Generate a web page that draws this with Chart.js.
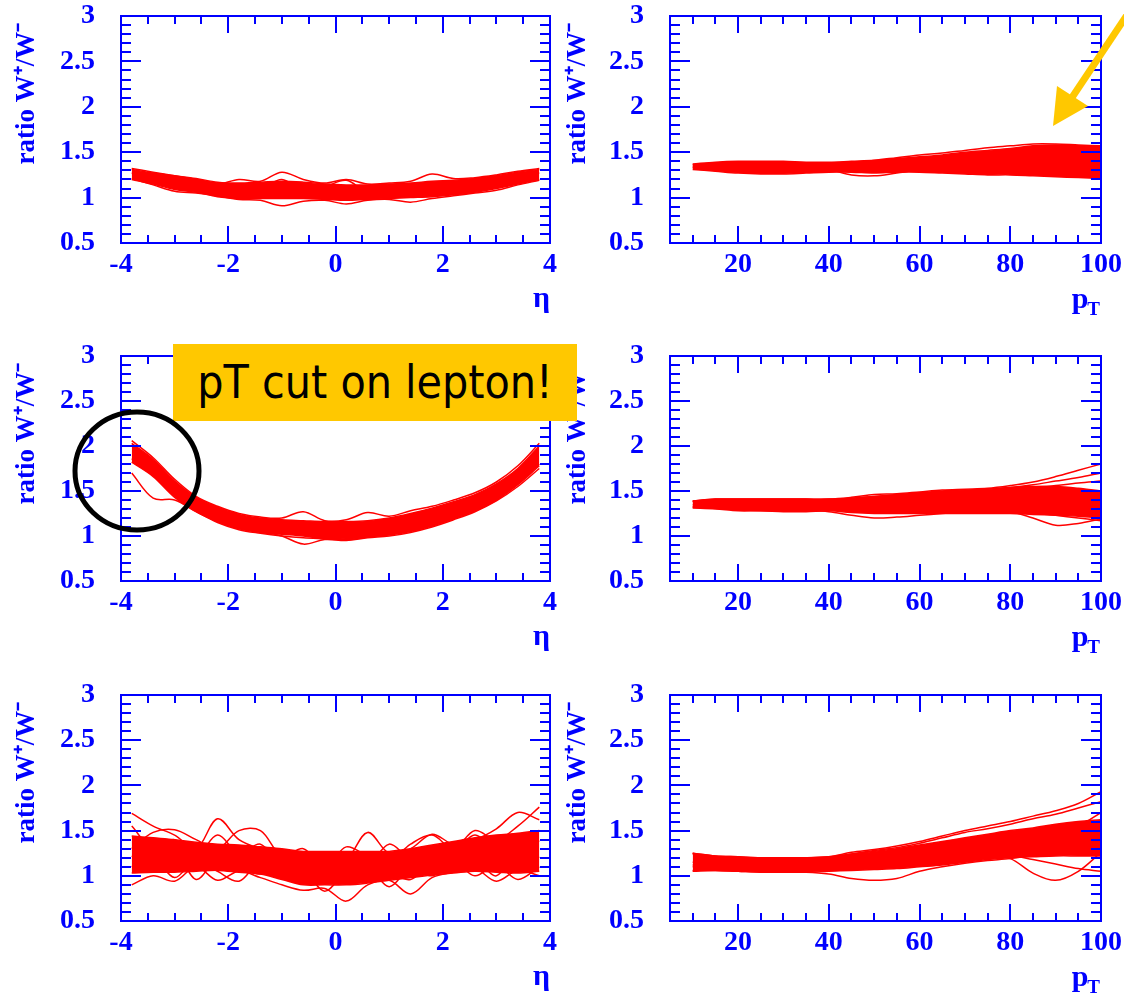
<!DOCTYPE html>
<html><head><meta charset="utf-8">
<script src="https://cdn.jsdelivr.net/npm/chart.js@4.4.1/dist/chart.umd.min.js"></script>
<style>
html,body{margin:0;padding:0;background:#fff;}
body{width:1124px;height:996px;position:relative;overflow:hidden;}
canvas{position:absolute;display:block;}
#note{position:absolute;left:173px;top:344px;width:404px;height:77px;background:#FFC800;
  font-family:"DejaVu Sans Condensed","DejaVu Sans",sans-serif;font-size:46px;color:#000;
  line-height:77px;text-align:center;white-space:nowrap;}
#deco{position:absolute;left:0;top:0;}
</style></head><body>
<canvas id="c1"></canvas><canvas id="c2"></canvas>
<canvas id="c3"></canvas><canvas id="c4"></canvas>
<canvas id="c5"></canvas><canvas id="c6"></canvas>
<div id="note">pT cut on lepton!</div>
<svg id="deco" width="1124" height="996">
  <ellipse cx="137" cy="471" rx="62" ry="59" fill="none" stroke="#000" stroke-width="5"/>
  <line x1="1137" y1="0" x2="1071" y2="99" stroke="#FFC800" stroke-width="7"/>
  <polygon points="1053,126 1088,106 1057,86" fill="#FFC800"/>
</svg>
<script>
// ---------------- data ----------------
const etaX = [-3.8,-3.4,-3.0,-2.6,-2.2,-1.8,-1.4,-1.0,-0.6,-0.2,0.2,0.6,1.0,1.4,1.8,2.2,2.6,3.0,3.4,3.8];
const ptX  = [10,15,20,25,30,35,40,45,50,55,60,65,70,75,80,85,90,95,100];
const yTickLabels   = [0.5,1,1.5,2,2.5,3];
const etaTickLabels = [-4,-2,0,2,4];
const ptTickLabels  = [20,40,60,80,100];

// top-left: eta
const etaTopLow  = [1.20,1.15,1.09,1.06,1.01,0.99,0.99,0.99,0.99,0.98,0.97,0.98,0.99,1.00,1.01,1.03,1.06,1.10,1.15,1.20];
const etaTopHigh = [1.31,1.27,1.24,1.21,1.17,1.16,1.17,1.18,1.17,1.15,1.14,1.14,1.15,1.16,1.18,1.19,1.21,1.24,1.28,1.31];
const etaTopCurves = [
  [1.32,1.28,1.24,1.20,1.15,1.20,1.18,1.28,1.20,1.16,1.20,1.15,1.16,1.18,1.26,1.21,1.22,1.25,1.29,1.32],
  [1.21,1.14,1.07,1.05,1.02,0.98,0.97,0.91,0.96,0.97,0.93,0.97,0.98,0.95,0.99,1.02,1.05,1.08,1.14,1.19],
  [1.27,1.22,1.18,1.14,1.10,1.12,1.10,1.20,1.08,1.12,1.19,1.06,1.10,1.12,1.13,1.14,1.16,1.18,1.24,1.27]
];
// middle-left: eta with lepton pT cut
const etaMidLow  = [1.82,1.66,1.43,1.27,1.16,1.08,1.04,1.02,1.00,0.97,0.97,0.99,1.01,1.05,1.11,1.19,1.28,1.40,1.57,1.78];
const etaMidHigh = [2.03,1.85,1.61,1.43,1.32,1.24,1.20,1.18,1.17,1.16,1.16,1.17,1.20,1.25,1.31,1.38,1.46,1.58,1.75,2.00];
const etaMidCurves = [
  [1.70,1.42,1.40,1.27,1.15,1.07,1.03,1.00,0.98,0.97,0.96,0.99,1.02,1.06,1.12,1.20,1.30,1.42,1.60,1.80],
  [2.06,1.87,1.63,1.44,1.33,1.25,1.21,1.20,1.27,1.17,1.18,1.26,1.22,1.28,1.33,1.40,1.48,1.60,1.78,2.03],
  [1.86,1.68,1.45,1.28,1.17,1.09,1.05,1.00,0.91,0.96,0.95,0.98,1.00,1.04,1.10,1.18,1.27,1.39,1.55,1.75]
];
// bottom-left: eta
const etaBotLow  = [1.03,1.04,1.04,1.05,1.06,1.04,1.02,0.96,0.90,0.90,0.90,0.92,0.95,0.98,1.01,1.03,1.05,1.04,1.03,1.05];
const etaBotHigh = [1.44,1.42,1.40,1.37,1.35,1.34,1.32,1.30,1.27,1.27,1.27,1.27,1.27,1.30,1.34,1.38,1.42,1.45,1.47,1.50];
const etaBotCurves = [
  [1.69,1.55,1.45,1.30,1.63,1.40,1.30,1.25,1.22,1.15,1.18,1.48,1.25,1.30,1.46,1.35,1.40,1.52,1.70,1.62],
  [0.90,1.00,0.94,1.10,0.95,1.05,0.98,0.90,0.84,0.86,0.72,0.90,0.95,0.80,0.98,1.04,1.08,0.94,1.06,1.00],
  [1.30,1.48,1.51,1.40,1.30,1.50,1.50,1.22,1.30,1.10,1.32,1.22,1.16,1.35,1.45,1.30,1.50,1.40,1.55,1.76],
  [1.10,1.20,0.98,1.18,1.05,0.94,1.15,0.98,1.05,0.83,1.05,1.10,0.88,1.08,1.00,1.15,1.00,1.12,0.96,1.10],
  [1.55,1.30,1.40,1.22,1.45,1.25,1.35,1.12,1.25,1.18,1.20,1.12,1.35,1.20,1.32,1.28,1.45,1.30,1.45,1.38],
  [1.22,1.08,1.28,0.96,1.18,1.10,1.02,1.15,0.96,1.05,0.98,1.25,1.05,0.96,1.15,1.10,1.18,1.00,1.30,1.20]
];
// top-right: pT
const ptTopLow  = [1.31,1.29,1.27,1.26,1.26,1.27,1.28,1.28,1.27,1.28,1.28,1.27,1.26,1.25,1.25,1.24,1.23,1.22,1.21];
const ptTopHigh = [1.37,1.39,1.40,1.40,1.40,1.39,1.39,1.40,1.41,1.43,1.45,1.47,1.50,1.52,1.54,1.57,1.58,1.57,1.56];
const ptTopCurves = [
  [1.33,1.33,1.32,1.32,1.32,1.32,1.31,1.25,1.24,1.27,1.30,1.31,1.33,1.30,1.28,1.27,1.26,1.28,1.30],
  [1.36,1.38,1.39,1.39,1.39,1.38,1.38,1.39,1.41,1.44,1.47,1.49,1.52,1.55,1.57,1.59,1.59,1.58,1.57],
  [1.34,1.35,1.36,1.36,1.35,1.35,1.34,1.35,1.36,1.37,1.38,1.40,1.41,1.40,1.41,1.43,1.44,1.40,1.38]
];
// middle-right: pT
const ptMidLow  = [1.31,1.30,1.28,1.28,1.27,1.27,1.28,1.26,1.25,1.25,1.25,1.25,1.25,1.25,1.25,1.24,1.23,1.22,1.20];
const ptMidHigh = [1.39,1.41,1.41,1.41,1.41,1.41,1.41,1.42,1.44,1.46,1.48,1.50,1.51,1.52,1.54,1.55,1.55,1.53,1.50];
const ptMidCurves = [
  [1.39,1.41,1.41,1.41,1.41,1.41,1.41,1.43,1.46,1.47,1.49,1.51,1.52,1.53,1.56,1.60,1.66,1.73,1.80],
  [1.38,1.40,1.40,1.40,1.40,1.40,1.40,1.42,1.44,1.45,1.47,1.49,1.50,1.52,1.54,1.57,1.61,1.65,1.70],
  [1.32,1.31,1.29,1.28,1.28,1.28,1.27,1.23,1.20,1.21,1.23,1.25,1.27,1.28,1.27,1.20,1.12,1.14,1.19],
  [1.35,1.36,1.36,1.36,1.35,1.35,1.35,1.36,1.38,1.40,1.42,1.44,1.46,1.48,1.50,1.53,1.56,1.59,1.61],
  [1.33,1.32,1.31,1.30,1.30,1.30,1.30,1.29,1.28,1.28,1.29,1.30,1.30,1.29,1.28,1.26,1.23,1.20,1.17]
];
// bottom-right: pT
const ptBotLow  = [1.05,1.06,1.05,1.04,1.04,1.04,1.05,1.06,1.07,1.08,1.10,1.12,1.15,1.18,1.20,1.21,1.22,1.22,1.22];
const ptBotHigh = [1.25,1.22,1.21,1.20,1.20,1.20,1.21,1.24,1.27,1.30,1.34,1.38,1.42,1.46,1.50,1.53,1.57,1.60,1.62];
const ptBotCurves = [
  [1.25,1.22,1.21,1.20,1.20,1.20,1.21,1.26,1.29,1.33,1.38,1.44,1.50,1.55,1.60,1.66,1.72,1.80,1.93],
  [1.24,1.21,1.20,1.19,1.19,1.19,1.20,1.24,1.28,1.31,1.36,1.42,1.48,1.52,1.57,1.63,1.68,1.75,1.82],
  [1.06,1.06,1.05,1.04,1.04,1.04,1.02,0.97,0.95,0.97,1.05,1.10,1.14,1.17,1.19,1.23,1.28,1.36,1.45],
  [1.10,1.10,1.09,1.08,1.08,1.08,1.09,1.11,1.13,1.15,1.18,1.21,1.22,1.22,1.19,1.03,0.95,1.05,1.26],
  [1.12,1.12,1.11,1.10,1.10,1.10,1.11,1.13,1.15,1.17,1.20,1.23,1.26,1.26,1.23,1.18,1.13,1.08,1.05],
  [1.15,1.15,1.14,1.13,1.13,1.13,1.14,1.17,1.20,1.24,1.28,1.32,1.36,1.39,1.42,1.45,1.48,1.55,1.70]
];

// axis tick steps
const etaMinorStep = 0.5, etaMajorStep = 2;
const ptMinorStep = 5, ptMajorStep = 20;
const yMinorStep = 0.1, yMajorStep = 0.5;

// ---------------- drawing ----------------
const BLUE = '#0000ff';
const RED = '#ff0000';
const SERIF = '"Liberation Serif","Times New Roman",serif';
Chart.defaults.font.family = SERIF;

const frameTicks = {
  id: 'frameTicks',
  afterDatasetsDraw(chart, args, o) {
    const {ctx, chartArea: a, scales: {x, y}} = chart;
    ctx.save();
    ctx.strokeStyle = BLUE; ctx.lineWidth = 2; ctx.lineCap = 'butt';
    ctx.beginPath();
    const nx = Math.round((x.max - x.min) / o.xMinor);
    for (let i = 0; i <= nx; i++) {
      const v = x.min + i * o.xMinor;
      const r = v / o.xMajor;
      const len = Math.abs(r - Math.round(r)) < 1e-6 ? 17 : 8;
      const px = Math.round(x.getPixelForValue(v));
      ctx.moveTo(px, a.bottom); ctx.lineTo(px, a.bottom - len);
      ctx.moveTo(px, a.top); ctx.lineTo(px, a.top + len);
    }
    const ny = Math.round((y.max - y.min) / o.yMinor);
    for (let i = 0; i <= ny; i++) {
      const v = y.min + i * o.yMinor;
      const r = v / o.yMajor;
      const len = Math.abs(r - Math.round(r)) < 1e-6 ? 20 : 10;
      const py = Math.round(y.getPixelForValue(v));
      ctx.moveTo(a.left, py); ctx.lineTo(a.left + len, py);
      ctx.moveTo(a.right, py); ctx.lineTo(a.right - len, py);
    }
    ctx.stroke();
    ctx.strokeRect(a.left, a.top, a.right - a.left, a.bottom - a.top);
    ctx.restore();
  }
};

const ptTitle = {
  id: 'ptTitle',
  afterDraw(chart, args, o) {
    if (!o.show) return;
    const {ctx, chartArea: a} = chart;
    ctx.save();
    ctx.fillStyle = BLUE;
    ctx.textBaseline = 'alphabetic';
    ctx.textAlign = 'left';
    ctx.font = 'bold 19px ' + SERIF;
    const wT = ctx.measureText('T').width;
    ctx.font = 'bold 30px ' + SERIF;
    const wp = ctx.measureText('p').width;
    const xr = a.right - 1;
    ctx.fillText('p', xr - wT - wp + 1, a.bottom + 65);
    ctx.font = 'bold 19px ' + SERIF;
    ctx.fillText('T', xr - wT, a.bottom + 72);
    ctx.restore();
  }
};

function pts(xs, ys) { return xs.map((x, i) => ({x: x, y: ys[i]})); }

function panel(id, box, frame, kind, low, high, curves, yTitlePad) {
  const isEta = kind === 'eta';
  const xs = isEta ? etaX : ptX;
  const cv = document.getElementById(id);
  cv.width = box.w; cv.height = box.h;
  cv.style.left = box.x + 'px'; cv.style.top = box.y + 'px';
  cv.style.width = box.w + 'px'; cv.style.height = box.h + 'px';
  const padTop = frame.top - box.y;
  const padRight = box.x + box.w - frame.right;
  const yW = frame.left - box.x;
  const xH = box.y + box.h - frame.bottom;
  const etaCenter = frame.bottom + 56;
  const etaPadB = Math.max(0, (box.y + box.h) - etaCenter - 18);
  const line = (ys, fill) => ({
    data: pts(xs, ys), borderColor: RED, backgroundColor: RED,
    borderWidth: 1.5, pointRadius: 0, tension: 0.35, fill: fill
  });
  const datasets = [line(low, false), line(high, '-1')].concat(curves.map(c => line(c, false)));
  new Chart(cv, {
    type: 'line',
    data: {datasets},
    options: {
      responsive: false, animation: false, events: [],
      layout: {padding: {left: 0, top: padTop, right: padRight, bottom: 0}},
      plugins: {
        legend: {display: false}, tooltip: {enabled: false},
        frameTicks: {
          xMinor: isEta ? etaMinorStep : ptMinorStep,
          xMajor: isEta ? etaMajorStep : ptMajorStep,
          yMinor: yMinorStep, yMajor: yMajorStep
        },
        ptTitle: {show: !isEta}
      },
      scales: {
        x: {
          type: 'linear', min: isEta ? -4 : 5, max: isEta ? 4 : 100,
          grid: {display: false, drawTicks: false}, border: {display: false},
          afterBuildTicks: s => { s.ticks = (isEta ? etaTickLabels : ptTickLabels).map(v => ({value: v})); },
          afterFit: s => { s.height = xH; s.paddingLeft = 0; s.paddingRight = 0; },
          ticks: {color: BLUE, font: {size: 28, weight: 'bold'}, padding: 5, maxRotation: 0, autoSkip: false,
                  callback: v => String(v)},
          title: {display: isEta, text: 'η', align: 'end', color: BLUE,
                  font: {size: 30, weight: 'bold'}, padding: {top: 0, bottom: etaPadB}}
        },
        y: {
          type: 'linear', min: 0.5, max: 3,
          grid: {display: false, drawTicks: false}, border: {display: false},
          afterBuildTicks: s => { s.ticks = yTickLabels.map(v => ({value: v})); },
          afterFit: s => { s.width = yW; s.paddingTop = 0; s.paddingBottom = 0; },
          ticks: {color: BLUE, font: {size: 28, weight: 'bold'}, padding: 26, autoSkip: false,
                  callback: v => String(v)},
          title: {display: true, text: 'ratio W⁺/W⁻ ', align: 'end', color: BLUE,
                  font: {size: 27, weight: 'bold'}, padding: {top: yTitlePad, bottom: 0}}
        }
      }
    },
    plugins: [frameTicks, ptTitle]
  });
}

const rows = [
  {y: 0, h: 330, top: 16, bottom: 243},
  {y: 330, h: 340, top: 356, bottom: 581},
  {y: 670, h: 326, top: 695, bottom: 921}
];
const colL = {x: 0, w: 562, left: 121, right: 550};
const colR = {x: 562, w: 562, left: 670, right: 1101};
function B(c, r) { return {x: c.x, y: r.y, w: c.w, h: r.h}; }
function F(c, r) { return {left: c.left, right: c.right, top: r.top, bottom: r.bottom}; }

panel('c1', B(colL, rows[0]), F(colL, rows[0]), 'eta', etaTopLow, etaTopHigh, etaTopCurves, 11);
panel('c2', B(colR, rows[0]), F(colR, rows[0]), 'pt', ptTopLow, ptTopHigh, ptTopCurves, 0);
panel('c3', B(colL, rows[1]), F(colL, rows[1]), 'eta', etaMidLow, etaMidHigh, etaMidCurves, 11);
panel('c4', B(colR, rows[1]), F(colR, rows[1]), 'pt', ptMidLow, ptMidHigh, ptMidCurves, 0);
panel('c5', B(colL, rows[2]), F(colL, rows[2]), 'eta', etaBotLow, etaBotHigh, etaBotCurves, 11);
panel('c6', B(colR, rows[2]), F(colR, rows[2]), 'pt', ptBotLow, ptBotHigh, ptBotCurves, 0);
</script>
</body></html>
